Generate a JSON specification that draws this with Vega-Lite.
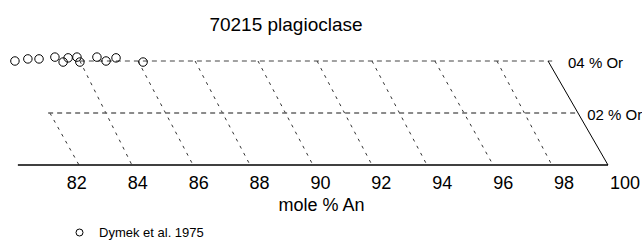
{
  "$schema": "https://vega.github.io/schema/vega-lite/v6.json",
  "width": 642,
  "height": 125,
  "autosize": {"type": "none"},
  "padding": {"left": 0, "top": 40, "right": 0, "bottom": 78},
  "background": "white",
  "config": {"view": {"stroke": null}, "font": "Liberation Sans"},
  "title": {"text": "70215 plagioclase", "fontSize": 19, "fontWeight": "normal", "font": "Liberation Sans", "color": "black", "anchor": "middle", "dx": -35, "dy": 20, "baseline": "alphabetic", "offset": 7},
  "datasets": {
    "ticks": [{"an": 82}, {"an": 84}, {"an": 86}, {"an": 88}, {"an": 90}, {"an": 92}, {"an": 94}, {"an": 96}, {"an": 98}, {"an": 100}],
    "grid": [
      {"line": "base", "kind": "base", "x": 79.92, "or": 0},
      {"line": "base", "kind": "base", "x": 100, "or": 0},
      {"line": "edge", "kind": "edge", "x": 100, "or": 0},
      {"line": "edge", "kind": "edge", "x": 97.96, "or": 4},
      {"line": "or2", "kind": "or2", "x": 80.95, "or": 2},
      {"line": "or2", "kind": "or2", "x": 98.98, "or": 2},
      {"line": "or4", "kind": "or4", "x": 82.03, "or": 4},
      {"line": "or4", "kind": "or4", "x": 98.1, "or": 4},
      {"line": "an82", "kind": "an", "x": 82.0, "or": 0},
      {"line": "an82", "kind": "an", "x": 81.01, "or": 2},
      {"line": "an84", "kind": "an", "x": 83.8, "or": 0},
      {"line": "an84", "kind": "an", "x": 82.03, "or": 4},
      {"line": "an86", "kind": "an", "x": 85.88, "or": 0},
      {"line": "an86", "kind": "an", "x": 84.01, "or": 4},
      {"line": "an88", "kind": "an", "x": 87.82, "or": 0},
      {"line": "an88", "kind": "an", "x": 85.95, "or": 4},
      {"line": "an90", "kind": "an", "x": 89.96, "or": 0},
      {"line": "an90", "kind": "an", "x": 88.09, "or": 4},
      {"line": "an92", "kind": "an", "x": 91.97, "or": 0},
      {"line": "an92", "kind": "an", "x": 90.1, "or": 4},
      {"line": "an94", "kind": "an", "x": 93.84, "or": 0},
      {"line": "an94", "kind": "an", "x": 91.97, "or": 4},
      {"line": "an96", "kind": "an", "x": 96.09, "or": 0},
      {"line": "an96", "kind": "an", "x": 94.11, "or": 4},
      {"line": "an98", "kind": "an", "x": 98.09, "or": 0},
      {"line": "an98", "kind": "an", "x": 96.22, "or": 4}
    ],
    "points": [
      {"source": "Dymek et al. 1975", "x": 79.82, "or": 4.0},
      {"source": "Dymek et al. 1975", "x": 80.26, "or": 4.08},
      {"source": "Dymek et al. 1975", "x": 80.64, "or": 4.08},
      {"source": "Dymek et al. 1975", "x": 81.18, "or": 4.15},
      {"source": "Dymek et al. 1975", "x": 81.46, "or": 3.96},
      {"source": "Dymek et al. 1975", "x": 81.63, "or": 4.12},
      {"source": "Dymek et al. 1975", "x": 81.93, "or": 4.15},
      {"source": "Dymek et al. 1975", "x": 82.03, "or": 3.96},
      {"source": "Dymek et al. 1975", "x": 82.61, "or": 4.15},
      {"source": "Dymek et al. 1975", "x": 82.92, "or": 4.0},
      {"source": "Dymek et al. 1975", "x": 83.26, "or": 4.12},
      {"source": "Dymek et al. 1975", "x": 84.18, "or": 3.96}
    ],
    "orlabels": [
      {"label": "04 % Or", "x": 98.64, "or": 4},
      {"label": "02 % Or", "x": 99.29, "or": 2}
    ]
  },
  "resolve": {"scale": {"x": "independent"}},
  "layer": [
    {
      "data": {"name": "ticks"},
      "mark": {"type": "point", "opacity": 0},
      "encoding": {
        "x": {
          "field": "an", "type": "quantitative",
          "scale": {"domain": [79.493, 100.576], "nice": false, "zero": false},
          "axis": {
            "values": [82, 84, 86, 88, 90, 92, 94, 96, 98, 100],
            "format": "d", "domain": false, "ticks": false, "grid": false,
            "labelFlush": false, "labelOverlap": false,
            "labelFontSize": 18, "labelFont": "Liberation Sans", "labelColor": "black", "labelPadding": 9,
            "title": "mole % An", "titleFontSize": 18, "titleFontWeight": "normal", "titleFont": "Liberation Sans",
            "titleColor": "black", "titleX": 321, "titleY": 45, "titleBaseline": "alphabetic", "titleAlign": "center"
          }
        },
        "y": {"value": 0}
      }
    },
    {
      "encoding": {
        "x": {"field": "x", "type": "quantitative", "scale": {"domain": [79.312, 101.157], "nice": false, "zero": false}, "axis": null},
        "y": {"field": "or", "type": "quantitative", "scale": {"domain": [0, 4.8077], "nice": false, "zero": false}, "axis": null}
      },
      "layer": [
        {
          "data": {"name": "grid"},
          "transform": [{"filter": "datum.kind === 'an'"}],
          "mark": {"type": "line", "color": "#333333", "strokeWidth": 1, "strokeDash": [3, 5]},
          "encoding": {"detail": {"field": "line"}}
        },
        {
          "data": {"name": "grid"},
          "transform": [{"filter": "datum.kind === 'or4'"}],
          "mark": {"type": "line", "color": "#444444", "strokeWidth": 1, "strokeDash": [5, 4]},
          "encoding": {"detail": {"field": "line"}}
        },
        {
          "data": {"name": "grid"},
          "transform": [{"filter": "datum.kind === 'or2'"}],
          "mark": {"type": "line", "color": "#666666", "strokeWidth": 1.5, "strokeDash": [5, 4]},
          "encoding": {"detail": {"field": "line"}}
        },
        {
          "data": {"name": "grid"},
          "transform": [{"filter": "datum.kind === 'edge'"}],
          "mark": {"type": "line", "color": "black", "strokeWidth": 1},
          "encoding": {"detail": {"field": "line"}}
        },
        {
          "data": {"name": "grid"},
          "transform": [{"filter": "datum.kind === 'base'"}],
          "mark": {"type": "line", "color": "black", "strokeWidth": 1.5},
          "encoding": {"detail": {"field": "line"}}
        },
        {
          "data": {"name": "points"},
          "mark": {"type": "point", "shape": "circle", "size": 72, "filled": false, "strokeWidth": 1, "opacity": 1},
          "encoding": {
            "color": {
              "field": "source", "type": "nominal",
              "scale": {"range": ["black"]},
              "legend": {
                "orient": "none", "legendX": 73, "legendY": 186, "title": null,
                "symbolType": "circle", "symbolSize": 49, "symbolStrokeWidth": 1,
                "labelFontSize": 13, "labelFont": "Liberation Sans", "labelColor": "black",
                "labelOffset": 13, "padding": 0
              }
            }
          }
        },
        {
          "data": {"name": "orlabels"},
          "mark": {"type": "text", "align": "left", "baseline": "middle", "dy": 2, "fontSize": 15, "font": "Liberation Sans", "color": "black"},
          "encoding": {"text": {"field": "label"}}
        }
      ]
    }
  ]
}
